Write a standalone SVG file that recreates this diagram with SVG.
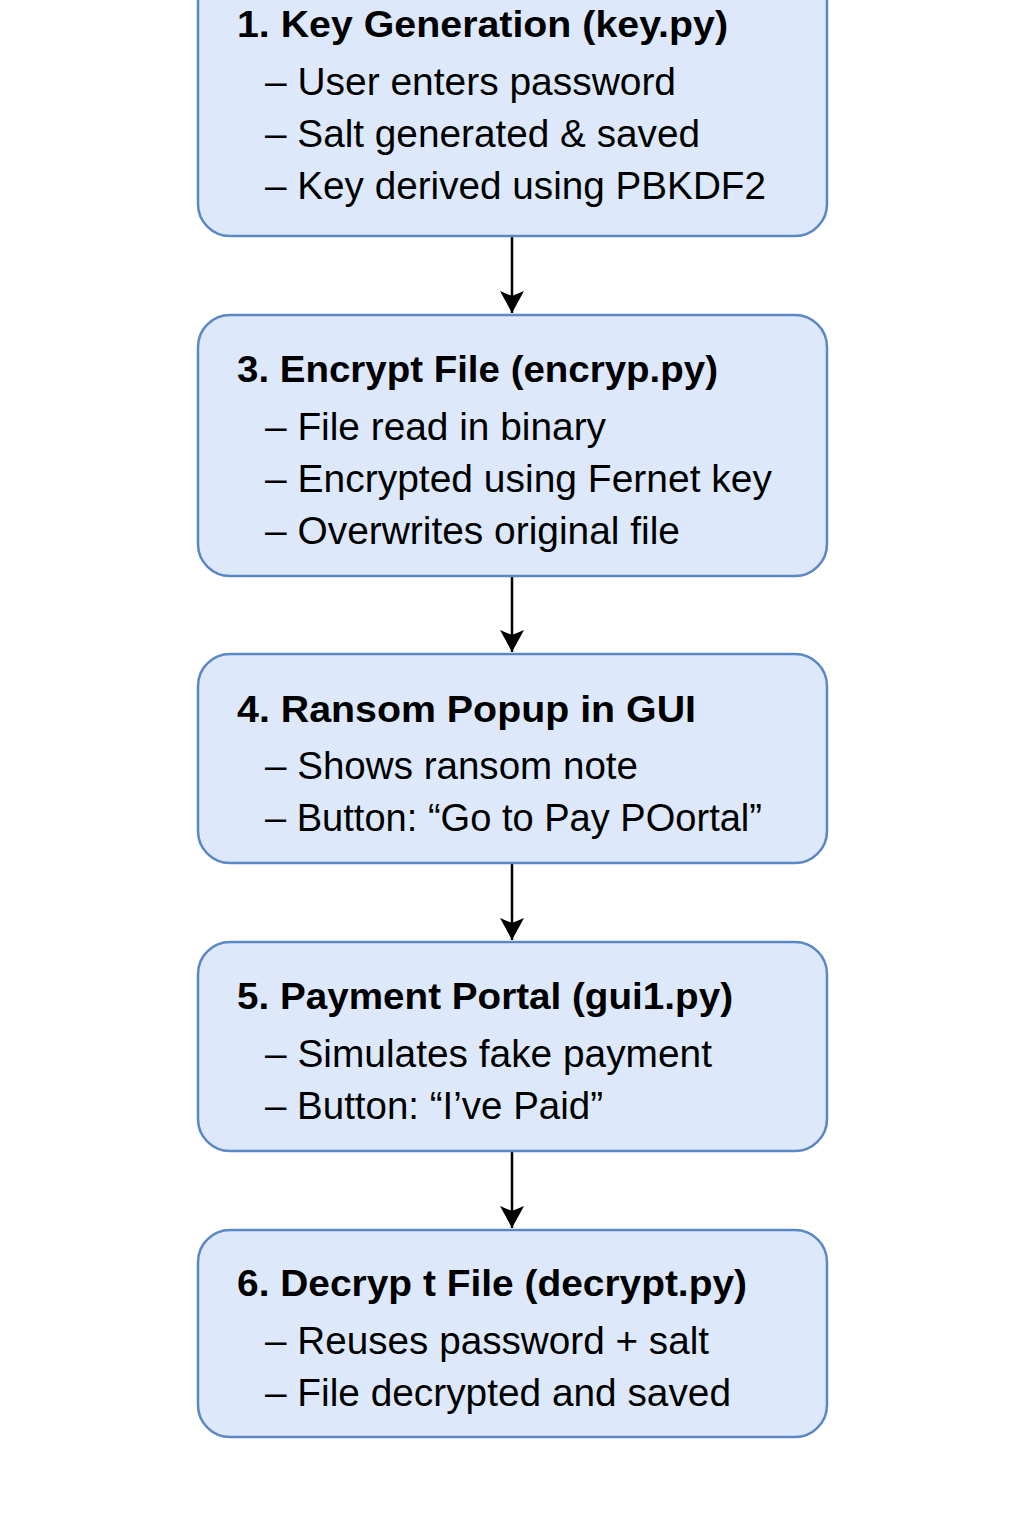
<svg xmlns="http://www.w3.org/2000/svg" width="1024" height="1536" viewBox="0 0 1024 1536">
<defs>
<style>
.box{fill:#dde9fa;stroke:#5b87c5;stroke-width:2.5}
.t{font-family:"Liberation Sans",Arial,sans-serif;font-weight:bold;font-size:37px;fill:#000}
.b{font-family:"Liberation Sans",Arial,sans-serif;font-size:38px;fill:#000}
.c{stroke:#000;stroke-width:2.5;fill:none}
</style>
<marker id="ah" viewBox="0 0 22 24" refX="22" refY="12" markerWidth="22" markerHeight="24" markerUnits="userSpaceOnUse" orient="auto">
<path d="M0,0 L5,12 L0,24 L22,12 Z" fill="#000"/>
</marker>
</defs>
<rect width="1024" height="1536" fill="#fff"/>
<g id="connectors">
<line class="c" x1="512" y1="237" x2="512" y2="313" marker-end="url(#ah)"/>
<line class="c" x1="512" y1="577" x2="512" y2="652" marker-end="url(#ah)"/>
<line class="c" x1="512" y1="864" x2="512" y2="940" marker-end="url(#ah)"/>
<line class="c" x1="512" y1="1152" x2="512" y2="1228" marker-end="url(#ah)"/>
</g>
<g id="n1">
<rect class="box" x="198" y="-30" width="629" height="266" rx="32"/>
<text class="t" x="237" y="37" textLength="491" lengthAdjust="spacingAndGlyphs">1. Key Generation (key.py)</text>
<text class="b" x="265" y="95" textLength="411" lengthAdjust="spacingAndGlyphs">– User enters password</text>
<text class="b" x="265" y="147" textLength="435" lengthAdjust="spacingAndGlyphs">– Salt generated &amp; saved</text>
<text class="b" x="265" y="199" textLength="501" lengthAdjust="spacingAndGlyphs">– Key derived using PBKDF2</text>
</g>
<g id="n3">
<rect class="box" x="198" y="315" width="629" height="261" rx="32"/>
<text class="t" x="237" y="382" textLength="481" lengthAdjust="spacingAndGlyphs">3. Encrypt File (encryp.py)</text>
<text class="b" x="265" y="440" textLength="341" lengthAdjust="spacingAndGlyphs">– File read in binary</text>
<text class="b" x="265" y="492" textLength="507" lengthAdjust="spacingAndGlyphs">– Encrypted using Fernet key</text>
<text class="b" x="265" y="544" textLength="415" lengthAdjust="spacingAndGlyphs">– Overwrites original file</text>
</g>
<g id="n4">
<rect class="box" x="198" y="654" width="629" height="209" rx="32"/>
<text class="t" x="237" y="722" textLength="459" lengthAdjust="spacingAndGlyphs">4. Ransom Popup in GUI</text>
<text class="b" x="265" y="779" textLength="373" lengthAdjust="spacingAndGlyphs">– Shows ransom note</text>
<text class="b" x="265" y="831" textLength="497" lengthAdjust="spacingAndGlyphs">– Button: “Go to Pay POortal”</text>
</g>
<g id="n5">
<rect class="box" x="198" y="942" width="629" height="209" rx="32"/>
<text class="t" x="237" y="1009" textLength="496" lengthAdjust="spacingAndGlyphs">5. Payment Portal (gui1.py)</text>
<text class="b" x="265" y="1067" textLength="447" lengthAdjust="spacingAndGlyphs">– Simulates fake payment</text>
<text class="b" x="265" y="1119" textLength="338" lengthAdjust="spacingAndGlyphs">– Button: “I’ve Paid”</text>
</g>
<g id="n6">
<rect class="box" x="198" y="1230" width="629" height="207" rx="32"/>
<text class="t" x="237" y="1296" textLength="510" lengthAdjust="spacingAndGlyphs">6. Decryp t File (decrypt.py)</text>
<text class="b" x="265" y="1354" textLength="444" lengthAdjust="spacingAndGlyphs">– Reuses password + salt</text>
<text class="b" x="265" y="1406" textLength="466" lengthAdjust="spacingAndGlyphs">– File decrypted and saved</text>
</g>
</svg>
